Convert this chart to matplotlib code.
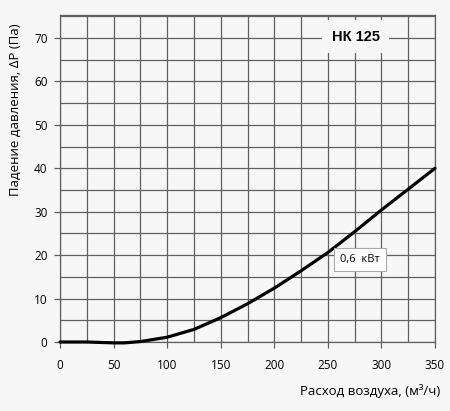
import matplotlib
matplotlib.use("Agg")
import matplotlib.pyplot as plt
import numpy as np

# curve
flow = [0, 25, 50, 60, 75, 100, 125, 150, 175, 200, 225, 250, 275, 300, 325, 350]
pressure = [0, 0, -0.2, -0.2, 0.1, 1.1, 2.9, 5.6, 8.8, 12.4, 16.4, 20.6, 25.4, 30.4, 35.2, 40]

x_ticks = [0, 50, 100, 150, 200, 250, 300, 350]
y_ticks = [0, 10, 20, 30, 40, 50, 60, 70]

bg = "#f7f7f7"
grid_col = "#606060"

fig = plt.figure(figsize=(4.5, 4.11), dpi=100, facecolor=bg)
ax = fig.add_axes([60/450, 69/411, 375/450, 327/411], facecolor=bg)

ax.set_xlim(0, 350)
ax.set_ylim(0, 75.3)

ax.set_xticks(x_ticks)
ax.set_yticks(y_ticks)
ax.set_xticks(np.arange(0, 351, 25), minor=True)
ax.set_yticks(np.arange(0, 76, 5), minor=True)
ax.grid(which="both", color=grid_col, linewidth=0.9)
ax.set_axisbelow(True)

ax.tick_params(which="major", length=4, width=0.9, color=grid_col,
               labelsize=8.5, pad=5)
ax.tick_params(which="minor", length=0)
for lab in ax.get_xticklabels() + ax.get_yticklabels():
    lab.set_family("Open Sans")
ax.tick_params(axis="x", pad=8)

for s in ax.spines.values():
    s.set_color(grid_col)
    s.set_linewidth(0.9)

ax.plot(flow, pressure, color="black", linewidth=2.3, solid_capstyle="round",
        zorder=3, clip_on=False)

ax.text(276, 70.3, "НК 125", family="Liberation Sans", weight="bold", fontsize=10.5,
        ha="center", va="center", zorder=4,
        bbox=dict(boxstyle="square,pad=0.65", fc=bg, ec="none"))
ax.text(280, 19, "0,6  кВт", family="Open Sans", fontsize=8,
        ha="center", va="center", zorder=4,
        bbox=dict(boxstyle="square,pad=0.55", fc="white", ec="#aaaaaa", lw=0.8))

fig.text(440/450, 1 - 391/411, "Расход воздуха, (м³/ч)", family="Open Sans",
         fontsize=9.5, ha="right", va="center")
fig.text(15/450, 1 - 110/411, "Падение давления, ΔP (Па)", family="Open Sans",
         fontsize=9.5, ha="center", va="center", rotation=90)

fig.savefig("out.png", dpi=100, facecolor=bg)
